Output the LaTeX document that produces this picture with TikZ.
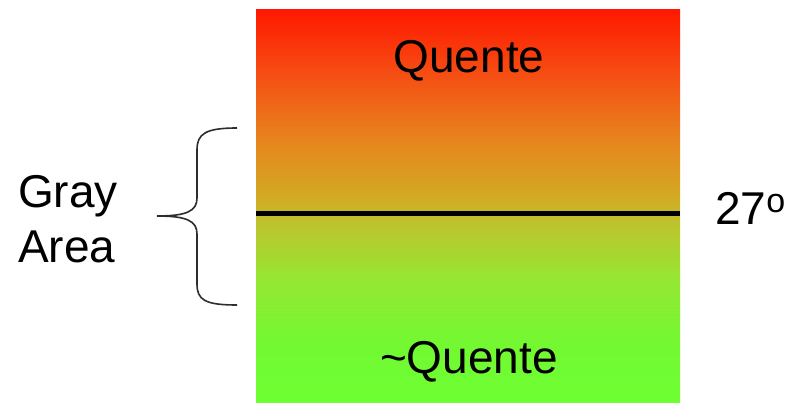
\documentclass[tikz,border=0pt]{standalone}
\usepackage{fontspec}
\setmainfont{Liberation Sans}
\definecolor{hA}{RGB}{110,255,50}
\definecolor{hB}{RGB}{115,248,50}
\definecolor{hC}{RGB}{150,230,50}
\definecolor{hD}{RGB}{190,195,45}
\definecolor{hE}{RGB}{210,170,35}
\definecolor{hF}{RGB}{230,135,30}
\definecolor{hG}{RGB}{245,80,20}
\definecolor{hH}{RGB}{255,25,0}
\definecolor{bracegray}{RGB}{45,45,45}
\pgfdeclareverticalshading{heatgrad}{100bp}{color(0bp)=(hA); color(25bp)=(hA); color(32.65bp)=(hB); color(41bp)=(hC); color(47.9bp)=(hD); color(51.2bp)=(hE); color(58.1bp)=(hF); color(66.5bp)=(hG); color(75bp)=(hH); color(100bp)=(hH)}
\begin{document}
\begin{tikzpicture}[x=1pt,y=-1pt,
  lbl/.style={inner sep=0pt,font=\fontsize{46}{55}\selectfont},
  divider/.style={line width=5pt,black},
  bracestyle/.style={draw=bracegray,line width=1.6pt}]
\useasboundingbox (0,0) rectangle (802,403);
\node[inner sep=0pt,outer sep=0pt,minimum width=424pt,minimum height=393pt,
  anchor=north west,shading=heatgrad] (box) at (256,10) {};
\coordinate (lineL) at (256,214);
\coordinate (lineR) at (680,214);
\draw[divider] (lineL) -- (lineR);
\node[lbl,anchor=base] (hot) at (469,73) {Quente};
\node[lbl,anchor=base] (nothot) at (469,373) {\textasciitilde Quente};
\node[lbl,anchor=base west] (temp) at (715,225) {27\raisebox{12pt}{\fontsize{34}{34}\selectfont o}};
\node[lbl,anchor=west,align=left] (gray) at (18,219) {Gray\\Area};
\draw[bracestyle] (237,128) .. controls (205,128) and (197,134) .. (197,150) -- (197,198)
  .. controls (197,211) and (187,216) .. (157,216)
  .. controls (187,216) and (197,221) .. (197,234) -- (197,284)
  .. controls (197,300) and (205,305) .. (237,305);
\end{tikzpicture}
\end{document}
